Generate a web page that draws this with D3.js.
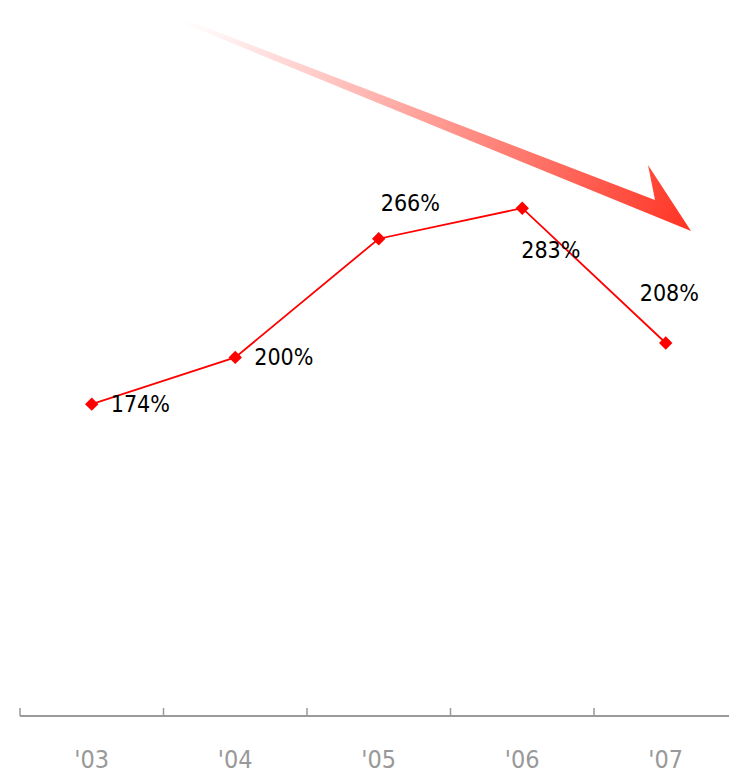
<!DOCTYPE html>
<html>
<head>
<meta charset="utf-8">
<script src="https://cdn.jsdelivr.net/npm/d3@7"></script>
<style>
  html, body { margin: 0; padding: 0; background: #fff; }
  svg { display: block; }
  .lbl { font-family: "DejaVu Sans Condensed", "DejaVu Sans", sans-serif; font-stretch: condensed; }
</style>
</head>
<body>
<svg id="chart" width="729" height="776"></svg>
<script>
// ---- data ----
const categories = ["'03", "'04", "'05", "'06", "'07"];
const values = [174, 200, 266, 283, 208];
const valueLabels = ["174%", "200%", "266%", "283%", "208%"];
const labelPlacement = ["right", "right", "above", "below", "above"];

const W = 729, H = 776;
const svg = d3.select("#chart");

const x = d3.scaleBand().domain(categories).range([20, 737.5]);
const y = d3.scaleLinear().domain([0, 300]).range([717, 717 - 300 * 1.798]);

// ---- decorative gradient arrow ----
const defs = svg.append("defs");
const grad = defs.append("linearGradient")
  .attr("id", "arrowGrad")
  .attr("gradientUnits", "userSpaceOnUse")
  .attr("x1", 160).attr("y1", 10).attr("x2", 691).attr("y2", 231);
grad.append("stop").attr("offset", "0").attr("stop-color", "#ffffff").attr("stop-opacity", 0);
grad.append("stop").attr("offset", "0.15").attr("stop-color", "#ffeaea").attr("stop-opacity", 1);
grad.append("stop").attr("offset", "1").attr("stop-color", "#ff3322");

const upper = xv => 102 + (xv - 400) * (98 / 255);
const lower = xv => 112 + (xv - 400) * (119 / 291);
const arrowPts = [
  [160, upper(160)],
  [655, upper(655)],
  [648, 165],
  [691, 231],
  [160, lower(160)]
];
svg.append("path")
  .attr("d", d3.line()(arrowPts) + "Z")
  .attr("fill", "url(#arrowGrad)");

// ---- axis ----
const axisY = 716;
svg.append("line")
  .attr("x1", 20).attr("x2", W).attr("y1", axisY).attr("y2", axisY)
  .attr("stroke", "#9a9a9a").attr("stroke-width", 2);
svg.selectAll("line.tick")
  .data(categories)
  .enter().append("line")
  .attr("class", "tick")
  .attr("x1", d => x(d)).attr("x2", d => x(d))
  .attr("y1", axisY - 8).attr("y2", axisY)
  .attr("stroke", "#9a9a9a").attr("stroke-width", 1.5);
svg.selectAll("text.cat")
  .data(categories)
  .enter().append("text")
  .attr("class", "cat lbl")
  .attr("x", d => x(d) + x.bandwidth() / 2)
  .attr("y", 768)
  .attr("text-anchor", "middle")
  .attr("fill", "#999999")
  .attr("font-size", 25)
  .text(d => d);

// ---- line ----
const pts = categories.map((c, i) => ({ c, v: values[i], label: valueLabels[i], place: labelPlacement[i] }));
const cx = d => x(d.c) + x.bandwidth() / 2;

svg.append("path")
  .datum(pts)
  .attr("fill", "none")
  .attr("stroke", "#ff0000")
  .attr("stroke-width", 1.8)
  .attr("d", d3.line().x(cx).y(d => y(d.v)));

svg.selectAll("path.marker")
  .data(pts)
  .enter().append("path")
  .attr("class", "marker")
  .attr("d", d3.symbol().type(d3.symbolSquare).size(90))
  .attr("transform", d => `translate(${cx(d)},${y(d.v)}) rotate(45)`)
  .attr("fill", "#ff0000");

svg.selectAll("text.val")
  .data(pts)
  .enter().append("text")
  .attr("class", "val lbl")
  .attr("font-size", 23)
  .attr("fill", "#000")
  .attr("x", d => d.place === "right" ? cx(d) + 19 : (d.place === "above" && d.c === "'05") ? cx(d) + 2 : d.place === "below" ? cx(d) - 1 : cx(d) - 26)
  .attr("y", d => d.place === "right" ? y(d.v) + 8 : d.place === "above" ? y(d.v) - (d.c === "'05" ? 28 : 42) : y(d.v) + 50)
  .text(d => d.label);
</script>
</body>
</html>
